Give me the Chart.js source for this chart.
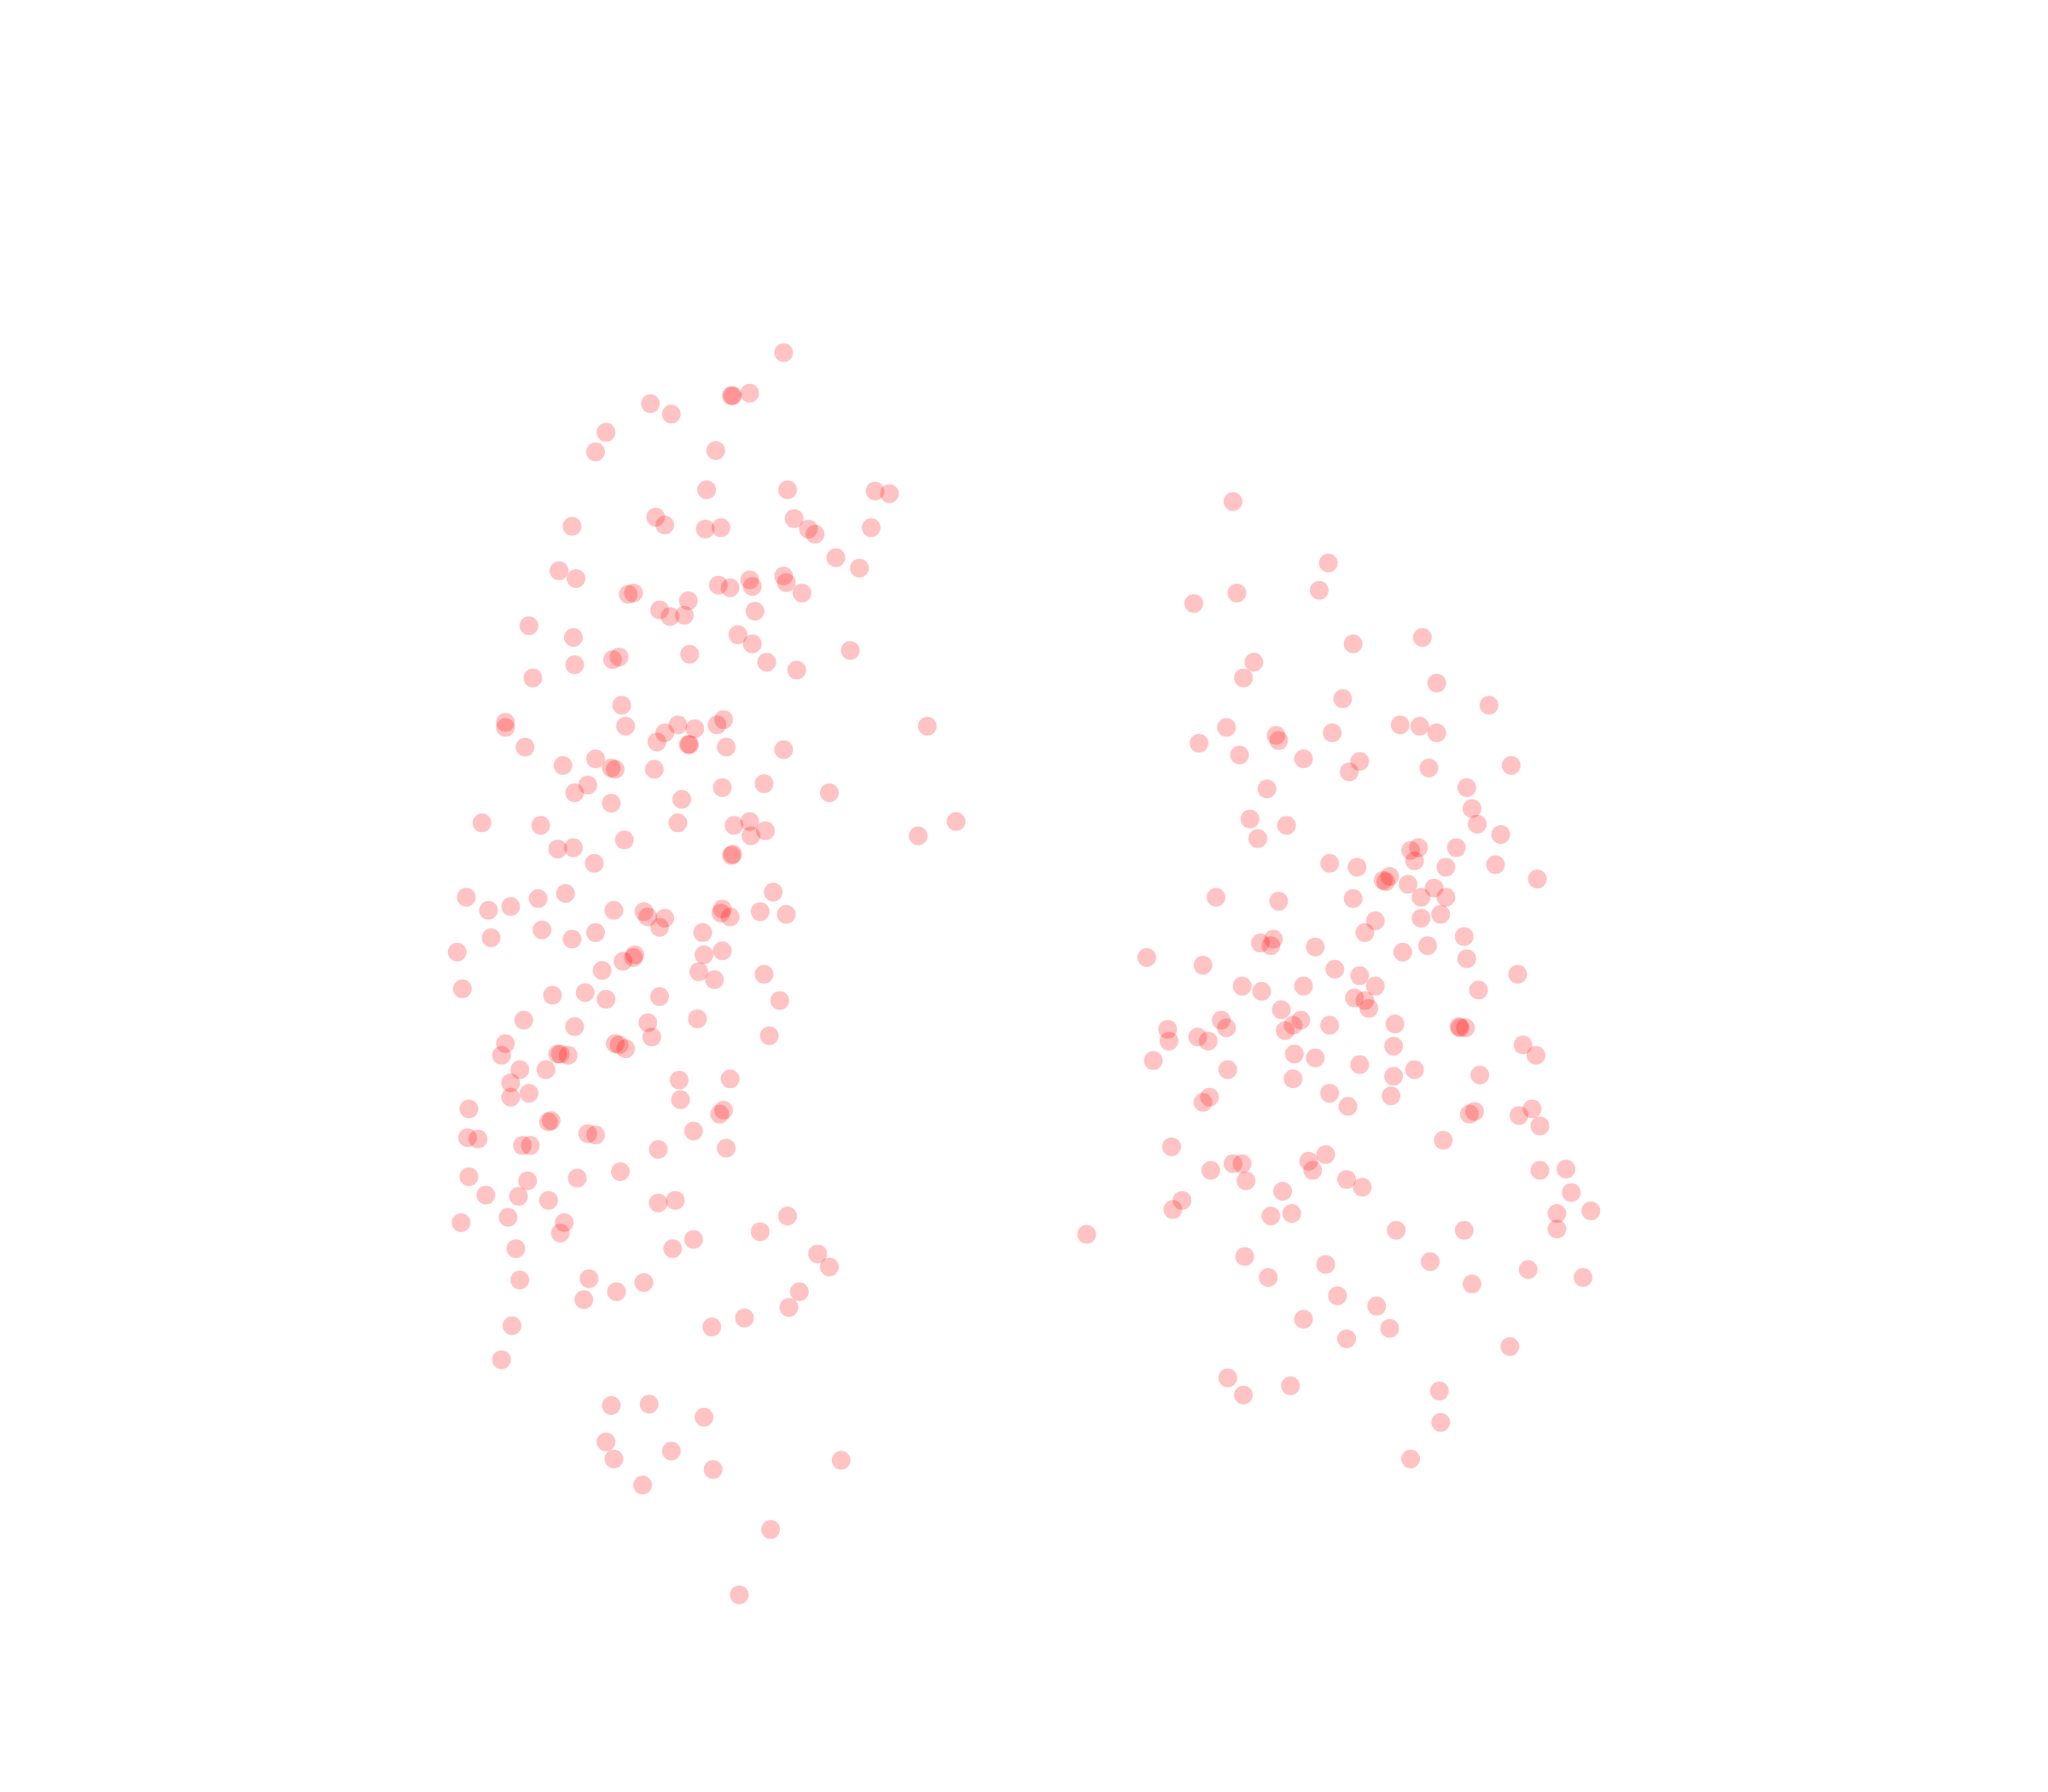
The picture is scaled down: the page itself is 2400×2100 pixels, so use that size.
<!DOCTYPE html>
<html lang="en">
<head>
  <meta charset="UTF-8">
  <title>Two clusters</title>
  <script src="https://cdn.jsdelivr.net/npm/chart.js"></script>
  <style>
    body { margin: 0; padding: 0; background-color: #ffffff; }
    canvas { display: block; }
  </style>
</head>
<body>
  <canvas id="scatterChart" width="2400" height="2100"></canvas>
  <script>
    // Values
    const leftX = [600,574,560,561,498,514,464,456,548,541,603,670,681,502,509,438,540,552,608,619,624,667,640,658,428,441,481,485,550,559,574,576,600,602,614,527,505,513,524,578,405,439,565,576,651,528,587,610,469,474,440,408,476,387,387,479,519,532,549,554,509,503,527,528,556,600,402,710,431,456,468,471,501,450,440,553,585,635,522,468,369,414,519,562,574,586,575,732,703,478,427,439,561,560,455,592,357,433,412,374,391,470,493,496,509,505,553,552,559,582,602,415,376,438,456,538,350,486,485,477,539,553,461,535,547,585,354,423,448,464,505,597,401,440,496,534,499,589,387,471,474,479,384,427,429,435,398,418,391,520,559,405,391,521,359,554,551,420,422,531,450,456,358,366,400,406,504,556,475,359,404,442,372,397,420,504,517,389,353,432,429,603,582,531,515,395,626,635,398,451,493,472,447,612,604,570,545,392,384,468,497,539,464,470,514,546,644,492,590,566];
    const leftY = [270,301,303,303,309,317,331,346,345,375,375,376,378,396,402,403,405,404,397,405,409,404,427,435,437,443,455,454,448,450,444,449,441,446,454,460,467,472,471,468,479,488,486,493,498,501,507,513,505,503,509,519,540,553,557,556,555,558,555,551,561,568,570,570,572,574,572,556,586,581,588,589,589,601,607,603,600,607,612,615,630,632,630,632,629,636,640,629,640,643,650,649,654,655,661,683,687,684,688,697,694,697,698,702,703,710,696,699,702,698,700,712,718,719,714,714,729,731,733,736,731,728,743,744,750,746,757,762,760,765,763,766,781,786,783,780,794,793,799,799,800,803,808,807,807,808,819,819,829,827,826,837,840,842,849,850,853,859,858,866,868,869,871,872,877,877,880,879,897,901,904,902,915,916,919,921,919,932,936,936,944,931,943,949,956,956,960,970,980,979,982,989,995,989,1001,1009,1016,1015,1041,1076,1075,1085,1104,1117,1111,1125,1118,1137,1171,1221];
    const rightX = [944,1017,947,1010,914,1036,1089,960,952,1100,1028,1140,939,977,979,1020,1072,1087,1100,918,949,998,1041,1033,1094,1157,970,1123,1127,957,985,1131,963,1149,1080,1086,1115,1018,1039,1083,1107,1145,1064,1059,1061,1078,1177,1098,931,979,1036,1088,1107,1103,1088,1053,1045,965,975,973,1007,1074,1093,1121,878,921,1123,1022,1041,1162,951,966,998,1053,1132,1037,1045,1048,981,935,939,990,984,996,1018,1068,1118,1117,1122,894,895,917,925,1067,1166,1176,991,1007,883,1041,940,990,1067,1083,1133,1018,1065,926,921,1032,1125,1129,1173,1163,1179,1105,897,1015,1002,944,951,927,1005,1179,1199,954,1031,1043,982,1203,905,898,973,989,1192,1218,1192,1069,1121,832,953,1015,1095,971,1170,1212,1127,1024,1054,998,1064,1031,1156,940,952,988,1102,1103,1080];
    const rightY = [384,431,454,452,462,493,488,507,519,523,535,540,557,563,567,561,555,556,561,569,578,581,583,591,588,586,604,603,619,627,632,631,642,639,651,649,649,661,664,659,664,662,671,674,675,677,673,680,687,690,688,687,687,700,703,705,714,722,719,724,725,729,724,717,733,739,734,742,747,746,755,759,755,755,758,764,766,772,773,781,787,785,789,781,785,784,787,786,787,788,797,794,797,801,800,808,807,810,812,815,819,826,824,819,823,837,839,840,844,847,853,851,849,854,862,873,878,884,889,891,891,896,896,896,895,904,903,909,912,913,919,926,931,929,929,927,941,942,942,945,962,968,966,978,972,978,983,992,1000,1010,1017,1025,1031,1055,1068,1061,1065,1089,1117];

    const toPoints = (xs, ys) => xs.map((x, i) => ({ x: x, y: ys[i] }));

    const ctx = document.getElementById('scatterChart').getContext('2d');
    const scatterChart = new Chart(ctx, {
      type: 'scatter',
      data: {
        datasets: [
          { label: 'Left', data: toPoints(leftX, leftY) },
          { label: 'Right', data: toPoints(rightX, rightY) }
        ]
      },
      options: {
        responsive: false,
        animation: false,
        elements: {
          point: {
            radius: 11,
            borderWidth: 0,
            backgroundColor: 'rgba(255, 0, 0, 0.235)'
          }
        },
        plugins: {
          legend: { display: false },
          tooltip: { enabled: false }
        },
        scales: {
          // chart area is inset by the point radius, so the range is trimmed to match
          x: { display: false, type: 'linear', min: 7.2, max: 1560.8 },
          y: { display: false, type: 'linear', min: 7.2, max: 1364.8, reverse: true }
        }
      }
    });
  </script>
</body>
</html>
